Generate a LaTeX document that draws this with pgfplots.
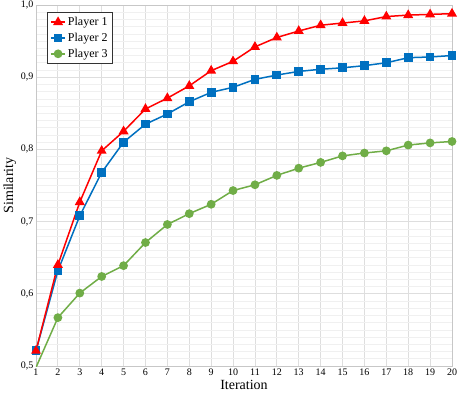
\documentclass[border=0pt]{standalone}
\usepackage{fontspec}
\setmainfont{Liberation Serif}
\usepackage{pgfplots}
\pgfplotsset{compat=1.18}
\definecolor{pred}{RGB}{255,0,0}
\definecolor{pblue}{RGB}{0,112,192}
\definecolor{pgreen}{RGB}{112,173,71}
\begin{document}
\begin{tikzpicture}
\begin{axis}[
  name=main,
  scale only axis,
  width=416pt, height=361pt,
  xmin=1, xmax=20, ymin=0.5, ymax=1.0,
  xtick={1,2,...,20},
  ytick={0.5,0.6,...,1.0},
  minor y tick num=9,
  grid=both,
  major grid style={draw=black!13, line width=0.8pt},
  minor grid style={draw=black!6, line width=0.6pt},
  axis line style={draw=black!22, line width=0.8pt},
  tick style={draw=none},
  /pgf/number format/assume math mode=true,
  ticklabel style={font=\rmfamily\fontsize{10}{12}\selectfont},
  xticklabel style={yshift=1pt},
  yticklabel style={xshift=1pt, /pgf/number format/.cd, use comma, fixed, fixed zerofill, precision=1},
  xlabel={Iteration}, ylabel={Similarity},
  label style={font=\rmfamily\fontsize{14}{16}\selectfont},
  xlabel style={at={(axis description cs:0.5,-0.053)}, anchor=center},
  ylabel style={at={(axis description cs:-0.063,0.5)}, anchor=center},
  legend style={at={(axis description cs:0.026,0.981)}, anchor=north west,
    draw=black!80, line width=0.8pt, font=\rmfamily\fontsize{12}{14}\selectfont,
    legend cell align=left, row sep=2pt, inner xsep=3pt, inner ysep=3pt},
  legend image code/.code={\draw[mark repeat=2,mark phase=2] plot coordinates {(0cm,0cm) (0.25cm,0cm) (0.5cm,0cm)};},
  reverse legend,
  every axis plot/.append style={line width=1.5pt},
]
\addplot[color=pgreen, mark=*, mark size=3.6pt, mark options={solid}] coordinates {
(1,0.498) (2,0.567) (3,0.601) (4,0.624) (5,0.639) (6,0.671) (7,0.696) (8,0.711) (9,0.724) (10,0.743)
(11,0.751) (12,0.764) (13,0.774) (14,0.782) (15,0.791) (16,0.795) (17,0.798) (18,0.806) (19,0.809) (20,0.811)};
\addplot[color=pblue, mark=square*, mark size=3.6pt] coordinates {
(1,0.521) (2,0.632) (3,0.708) (4,0.768) (5,0.810) (6,0.835) (7,0.849) (8,0.866) (9,0.879) (10,0.886)
(11,0.897) (12,0.903) (13,0.908) (14,0.911) (15,0.913) (16,0.916) (17,0.920) (18,0.927) (19,0.928) (20,0.930)};
\addplot[color=pred, mark=triangle*, mark size=4.3pt] coordinates {
(1,0.521) (2,0.640) (3,0.727) (4,0.798) (5,0.825) (6,0.856) (7,0.871) (8,0.888) (9,0.909) (10,0.922)
(11,0.942) (12,0.955) (13,0.964) (14,0.972) (15,0.975) (16,0.978) (17,0.984) (18,0.986) (19,0.987) (20,0.988)};
\legend{Player 3, Player 2, Player 1}
\end{axis}
\pgfresetboundingbox
\path ([xshift=-36pt,yshift=-28pt]main.south west) rectangle ([xshift=8pt,yshift=5pt]main.north east);
\end{tikzpicture}
\end{document}
